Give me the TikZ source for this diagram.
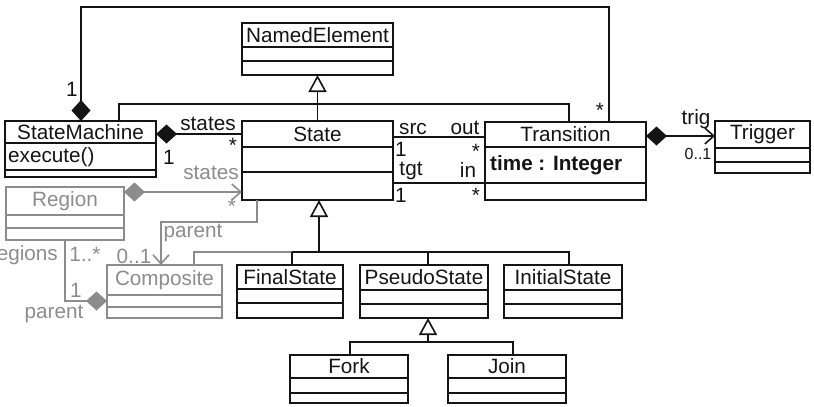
\documentclass[tikz,border=0pt]{standalone}
\usepackage{fontspec}
\setmainfont{Liberation Sans}
\usetikzlibrary{arrows.meta,calc}
\definecolor{ugray}{RGB}{140,140,140}
\definecolor{ink}{RGB}{20,20,20}
\tikzset{
  umlbox/.style={draw, rectangle, inner sep=0pt, outer sep=0pt, line width=1.6pt},
  ttl/.style={font=\fontsize{20.7}{22}\selectfont, inner sep=0pt},
  lbl/.style={font=\fontsize{20.7}{22}\selectfont, inner sep=0pt},
  smalllbl/.style={font=\fontsize{16}{18}\selectfont, inner sep=0pt},
  conn/.style={line width=1.6pt},
  blk/.style={draw=ink, text=ink},
  gry/.style={draw=ugray, text=ugray},
  tblk/.style={text=ink},
  tgry/.style={text=ugray},
  gentip/.style={-{Triangle[open, length=17pt, width=18pt]}},
  comptip/.style={{Diamond[length=21pt, width=19pt]}-},
  comparrow/.style={{Diamond[length=21pt, width=19pt]}-{Straight Barb[length=9pt, width=16pt]}},
  navtip/.style={-{Straight Barb[length=9pt, width=16pt]}}
}
\newcommand\umlclass[9]{%
  \node[umlbox,#8,minimum width={(#4-#2)*1pt},minimum height={(#5-#3)*1pt}] (#1) at ({(#2+#4)/2},{(#3+#5)/2}) {};
  \draw[#8, line width=1.6pt] (#1.west |- 0,#6) -- (#1.east |- 0,#6) (#1.west |- 0,#7) -- (#1.east |- 0,#7);
  \node[ttl,#8,draw=none] (#1-t) at ({(#2+#4)/2},{(#3+#6)/2}) {#9};
}
\begin{document}
\begin{tikzpicture}[x=1pt,y=-1pt]
\useasboundingbox (0,0) rectangle (814,407);
% classes
\umlclass{NE}{242}{23}{393}{75}{47}{61}{blk}{NamedElement}
\umlclass{SM}{5}{121}{156}{177}{143}{170}{blk}{StateMachine}
\umlclass{ST}{242}{121}{393}{200}{147}{172}{blk}{State}
\umlclass{TR}{485}{122}{646}{200}{147}{183}{blk}{Transition}
\umlclass{TG}{715}{121}{810}{173}{148}{162}{blk}{Trigger}
\umlclass{RG}{6}{187}{124}{240}{215}{228}{gry}{Region}
\umlclass{CP}{107}{265}{222}{318}{295}{307}{gry}{Composite}
\umlclass{FS}{237}{265}{343}{318}{289}{303}{blk}{FinalState}
\umlclass{PS}{360}{265}{488}{318}{290}{304}{blk}{PseudoState}
\umlclass{IS}{504}{265}{622}{318}{290}{304}{blk}{InitialState}
\umlclass{FK}{290}{355}{408}{403}{378}{393}{blk}{Fork}
\umlclass{JN}{448}{355}{566}{403}{378}{393}{blk}{Join}
% attributes
\node[lbl,tblk,anchor=west] (SM-a) at (8,157) {execute()};
\node[lbl,tblk,anchor=west,font=\fontsize{20.7}{22}\selectfont\bfseries] (TR-a) at (490,165) {time : Integer};
% top composition StateMachine -> Transition
\coordinate (t1) at (81,7);
\coordinate (t2) at (609,7);
\draw[conn,blk,comptip] (SM.north -| t1) -- (t1) -- (t2) -- (TR.north -| t2);
\node[lbl,tblk] (l1) at (72,89) {1};
\node[lbl,tblk] (l2) at (600,110) {*};
% generalization to NamedElement
\draw[conn,blk,gentip] (ST.north) -- (NE.south);
\coordinate (j1) at (119,104);
\coordinate (j2) at (569,104);
\draw[conn,blk] (SM.north -| j1) -- (j1) -- (j2) -- (TR.north -| j2);
% StateMachine - State
\draw[conn,blk,comptip] (SM.east |- 0,134) -- (ST.west |- 0,134);
\node[lbl,tblk] (l3) at (208,124) {states};
\node[lbl,tblk] (l4) at (233,145) {*};
\node[lbl,tblk] (l5) at (169,157) {1};
% State - Transition
\draw[conn,blk] (ST.east |- 0,137) -- (TR.west |- 0,137);
\draw[conn,blk] (ST.east |- 0,183) -- (TR.west |- 0,183);
\node[lbl,tblk] (l6) at (413,129) {src};
\node[lbl,tblk] (l7) at (465,128) {out};
\node[lbl,tblk] (l8) at (401,149) {1};
\node[lbl,tblk] (l9) at (476,151) {*};
\node[lbl,tblk] (l10) at (411,171) {tgt};
\node[lbl,tblk] (l11) at (468,170) {in};
\node[lbl,tblk] (l12) at (401,195) {1};
\node[lbl,tblk] (l13) at (476,195) {*};
% Transition - Trigger
\draw[conn,blk,comparrow] (TR.east |- 0,136) -- (TG.west |- 0,136);
\node[lbl,tblk] (l14) at (696,119) {trig};
\node[smalllbl,tblk] (l15) at (698,154) {0..1};
% Region - State
\draw[conn,gry,comparrow] (RG.east |- 0,192) -- (ST.west |- 0,192);
\node[lbl,tgry] (l16) at (211,173) {states};
\node[lbl,tgry] (l17) at (232,206) {*};
% State -> Composite (parent)
\coordinate (p1) at (257,222);
\coordinate (p2) at (161,222);
\draw[conn,gry,navtip] (ST.south -| p1) -- (p1) -- (p2) -- (CP.north -| p2);
\node[lbl,tgry] (l18) at (193,233) {parent};
\node[lbl,tgry] (l19) at (134,256) {0..1};
% generalization tree to State
\coordinate (g0) at (194,252);
\coordinate (g1) at (292,252);
\coordinate (g2) at (319,252);
\coordinate (g3) at (428,252);
\coordinate (g4) at (569,252);
\draw[conn,gry] (CP.north -| g0) -- (g0) -- (g1);
\draw[conn,blk] (g1) -- (g4) -- (IS.north -| g4);
\draw[conn,blk] (g1) -- (FS.north -| g1);
\draw[conn,blk] (g3) -- (PS.north -| g3);
\draw[conn,blk,gentip] (g2) -- (ST.south -| g2);
% generalization to PseudoState
\coordinate (h0) at (428,342);
\coordinate (h1) at (350,342);
\coordinate (h2) at (513,342);
\draw[conn,blk,gentip] (h0) -- (PS.south -| h0);
\draw[conn,blk] (FK.north -| h1) -- (h1) -- (h2) -- (JN.north -| h2);
% Region - Composite
\coordinate (r1) at (65,301);
\draw[conn,gry,comptip] (CP.west |- r1) -- (r1) -- (RG.south -| r1);
\node[lbl,tgry,anchor=east] (l20) at (58,255) {regions};
\node[lbl,tgry] (l21) at (85,254) {1..*};
\node[lbl,tgry] (l22) at (76,290) {1};
\node[lbl,tgry] (l23) at (54,314) {parent};
\end{tikzpicture}
\end{document}
